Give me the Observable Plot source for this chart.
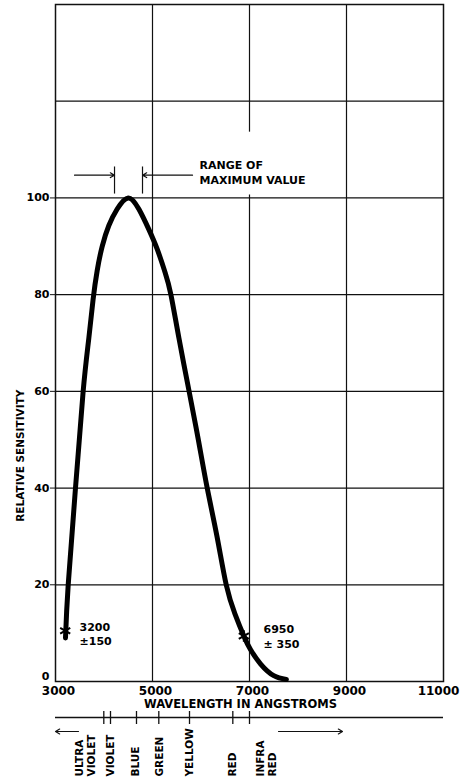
<!DOCTYPE html>
<html>
<head>
<meta charset="utf-8">
<script src="https://cdn.jsdelivr.net/npm/d3@7"></script>
<script src="https://cdn.jsdelivr.net/npm/@observablehq/plot@0.6"></script>
<style>
  html, body { margin: 0; padding: 0; background: #fff; }
  #chart { width: 460px; }
  #chart svg { display: block; }
</style>
</head>
<body>
<div id="chart"></div>
<script>
// ---- data ----
const wavelength = [3206, 3262, 3412, 3570, 3687, 3775, 3860, 3963, 4100, 4272, 4499, 4718, 4924, 5097, 5260, 5380, 5545, 5755, 5945, 6128, 6330, 6520, 6700, 6883, 7020, 7230, 7500, 7760];
const sensitivity = [9, 20, 40, 60, 71, 79, 85, 90, 94.3, 97.7, 100, 97.7, 93.5, 89.4, 84.6, 80, 71, 60, 50, 40, 30, 20, 14, 9.4, 6.6, 3.6, 1.2, 0.4];

const xTicks = [3000, 5000, 7000, 9000, 11000];
const yTicks = [0, 20, 40, 60, 80, 100];
const yGrid = [20, 40, 60, 80, 100, 120];

const limitWavelength = [3200, 6883];
const limitSensitivity = [10.5, 9.4];
const limitLabels = ["3200\n\u00b1150", "6950\n\u00b1 350"];
const limitLabelX = [3495, 7289];
const limitLabelY = [9.9, 9.4];

const rangeLow = 4217, rangeHigh = 4794;
const rangeText = "RANGE OF\nMAXIMUM VALUE";

const bandTicks = [3996, 4134, 4670, 5130, 5763, 6656, 7000];
const bandLabels = ["ULTRA\nVIOLET", "VIOLET", "BLUE", "GREEN", "YELLOW", "RED", "INFRA\nRED"];
const bandLabelX = [3605, 4120, 4640, 5130, 5763, 6640, 7350];

// ---- tables ----
const curve = wavelength.map((w, i) => ({w, s: sensitivity[i]}));
const limits = limitWavelength.map((w, i) => ({w, s: limitSensitivity[i], label: limitLabels[i], lx: limitLabelX[i], ly: limitLabelY[i]}));
const bands = bandLabels.map((t, i) => ({t, x: bandLabelX[i]}));

const FONT = "DejaVu Sans";
const ink = "#111";

const main = Plot.plot({
  width: 460,
  height: 710,
  marginLeft: 55,
  marginRight: 17,
  marginTop: 4,
  marginBottom: 29,
  style: {fontFamily: FONT, fontWeight: "bold", fontSize: "11px", color: "#000", background: "#fff"},
  x: {domain: [3000, 11000]},
  y: {domain: [0, 140]},
  marks: [
    // grid
    Plot.ruleY(yGrid, {stroke: ink, strokeWidth: 1.2}),
    Plot.ruleX([5000, 9000], {stroke: ink, strokeWidth: 1.2}),
    Plot.ruleX([7000], {y1: 0, y2: 100.6, stroke: ink, strokeWidth: 1.2}),
    Plot.ruleX([7000], {y1: 113.6, y2: 140, stroke: ink, strokeWidth: 1.2}),
    Plot.frame({stroke: ink, strokeWidth: 1.5}),
    // axes
    Plot.axisY({ticks: yTicks.slice(1), tickSize: 5, tickPadding: 1, fontSize: 11, fontWeight: "bold", label: null, stroke: ink}),
    Plot.axisY({ticks: yTicks.slice(0, 1), tickSize: 0, tickPadding: 6, dy: -5, fontSize: 11, fontWeight: "bold", label: null}),
    Plot.axisX({ticks: xTicks.slice(0, -1), tickSize: 0, tickPadding: 5, dx: 3, fontSize: 12, fontWeight: "bold", label: null, tickFormat: d => String(d)}),
    Plot.axisX({ticks: xTicks.slice(-1), tickSize: 0, tickPadding: 5, dx: -5, fontSize: 12, fontWeight: "bold", label: null, tickFormat: d => String(d)}),
    Plot.text(["WAVELENGTH IN ANGSTROMS"], {frameAnchor: "bottom", dx: -9, dy: 23, fontSize: 11.5, fontWeight: "bold", lineAnchor: "middle"}),
    Plot.text(["RELATIVE SENSITIVITY"], {x: 3000, y: 46.7, dx: -35, rotate: -90, fontSize: 10.5, fontWeight: "bold"}),
    // curve
    Plot.line(curve, {x: "w", y: "s", curve: "natural", stroke: "#000", strokeWidth: 5, strokeLinecap: "round", strokeLinejoin: "round"}),
    Plot.dot(limits, {x: "w", y: "s", symbol: "asterisk", r: 5.5, stroke: "#000", strokeWidth: 2}),
    Plot.text(limits, {x: "lx", y: "ly", text: "label", textAnchor: "start", lineAnchor: "middle", lineHeight: 1.3, fontSize: 11, fontWeight: "bold"}),
    // range of maximum value
    Plot.ruleX([rangeLow, rangeHigh], {y1: 100.8, y2: 106.4, stroke: ink, strokeWidth: 1.2}),
    Plot.arrow([{a: 3392, b: rangeLow}, {a: 5825, b: rangeHigh}], {x1: "a", x2: "b", y1: 104.7, y2: 104.7, stroke: ink, strokeWidth: 1.2, headLength: 6}),
    Plot.text([rangeText], {x: 5969, y: 105.4, textAnchor: "start", lineAnchor: "middle", lineHeight: 1.33, fontSize: 11, fontWeight: "bold"})
  ]
});

const strip = Plot.plot({
  width: 460,
  height: 69,
  marginLeft: 55,
  marginRight: 17,
  marginTop: 0,
  marginBottom: 0,
  style: {fontFamily: FONT, fontWeight: "bold", fontSize: "11px", color: "#000", background: "#fff", overflow: "visible"},
  x: {domain: [3000, 11000], axis: null},
  y: {domain: [0, 69], reverse: true, axis: null},
  marks: [
    Plot.ruleY([7], {stroke: ink, strokeWidth: 1.3}),
    Plot.ruleX(bandTicks, {y1: 1, y2: 14, stroke: ink, strokeWidth: 1.3}),
    Plot.arrow([{a: 3474, b: 3000}, {a: 7598, b: 8918}], {x1: "a", x2: "b", y1: 21, y2: 21, stroke: ink, strokeWidth: 1.2, headLength: 6}),
    Plot.text(bands, {x: "x", y: 66, text: "t", rotate: -90, textAnchor: "start", lineAnchor: "middle", lineHeight: 1.15, fontSize: 10.5, fontWeight: "bold"})
  ]
});

const root = document.getElementById("chart");
root.appendChild(main);
root.appendChild(strip);
</script>
</body>
</html>
